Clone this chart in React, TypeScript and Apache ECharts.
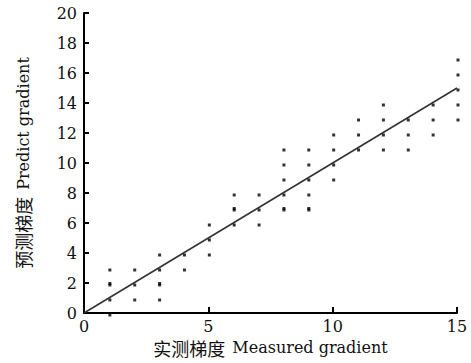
import React, { useEffect, useRef } from "react";
import * as echarts from "echarts";

// Measured gradient (x) and predicted gradient (y) for each point
const measured = [
  1, 1, 1, 1, 1,
  2, 2, 2,
  3, 3, 3, 3, 3,
  4, 4,
  5, 5, 5,
  6, 6, 6, 6,
  7, 7, 7,
  8, 8, 8, 8, 8, 8,
  9, 9, 9, 9, 9, 9,
  10, 10, 10, 10,
  11, 11, 11,
  12, 12, 12, 12,
  13, 13, 13,
  14, 14, 14,
  15, 15, 15, 15, 15,
];
const predicted = [
  3, 2, 2.1, 1, 0,
  3, 2, 1,
  4, 3, 2, 2.1, 1,
  4, 3,
  6, 5, 4,
  8, 7, 7.1, 6,
  8, 7, 6,
  11, 10, 9, 8, 7, 7.1,
  11, 10, 9, 8, 7, 7.1,
  12, 11, 10, 9,
  13, 12, 11,
  14, 13, 12, 11,
  13, 12, 11,
  14, 13, 12,
  17, 16, 15, 14, 13,
];
// Reference line y = x
const lineX = [0, 15];
const lineY = [0, 15];

const xTicks = { min: 0, max: 15, interval: 5 };
const yTicks = { min: 0, max: 20, interval: 2 };

const xName = "实测梯度 Measured gradient";
const yName = "预测梯度 Predict gradient";

const SERIF = "'DejaVu Serif', 'Liberation Serif', serif";
const CJK = "'Noto Sans CJK SC', sans-serif";

function richName(s: string) {
  const i = s.indexOf(" ");
  return `{cn|${s.slice(0, i)}}{en|${s.slice(i + 1)}}`;
}

const rich = {
  cn: { fontFamily: CJK, fontSize: 18, color: "#111", padding: [0, 7, 0, 0] },
  en: { fontFamily: SERIF, fontSize: 16, color: "#111" },
};

export default function App() {
  const ref = useRef<HTMLDivElement>(null);
  useEffect(() => {
    if (!ref.current) return;
    const chart = echarts.init(ref.current, undefined, { renderer: "svg" });
    const pts = measured.map((x, i) => [x, predicted[i]]);
    const line = lineX.map((x, i) => [x, lineY[i]]);
    const axisCommon = {
      type: "value" as const,
      splitLine: { show: false },
      axisLine: { show: true, lineStyle: { color: "#000", width: 2 } },
      axisLabel: { fontFamily: SERIF, fontSize: 16, color: "#111" },
    };
    chart.setOption({
      animation: false,
      backgroundColor: "#fff",
      grid: { left: 84, right: 14, top: 13, bottom: 50, containLabel: false },
      xAxis: {
        ...axisCommon,
        ...xTicks,
        axisTick: { show: true, inside: true, length: 6, lineStyle: { color: "#000", width: 2 } },
        axisLabel: { ...axisCommon.axisLabel, margin: 5 },
        name: richName(xName),
        nameLocation: "middle",
        nameGap: 25,
        nameTextStyle: { rich },
      },
      yAxis: {
        ...axisCommon,
        ...yTicks,
        axisTick: { show: true, inside: true, length: 5, lineStyle: { color: "#000", width: 2 } },
        axisLabel: { ...axisCommon.axisLabel, margin: 7 },
        name: richName(yName),
        nameLocation: "middle",
        nameRotate: 90,
        nameGap: 52,
        nameTextStyle: { rich },
      },
      series: [
        {
          type: "line",
          data: line,
          symbol: "none",
          lineStyle: { color: "#333", width: 1.6 },
          z: 2,
        },
        {
          type: "scatter",
          data: pts,
          symbol: "rect",
          symbolSize: 3,
          symbolOffset: [1, 2],
          itemStyle: { color: "#000" },
          z: 3,
        },
      ],
    });
    return () => chart.dispose();
  }, []);
  return (
    <div
      ref={ref}
      style={{ position: "fixed", left: 0, top: 0, width: 471, height: 363 }}
    />
  );
}
